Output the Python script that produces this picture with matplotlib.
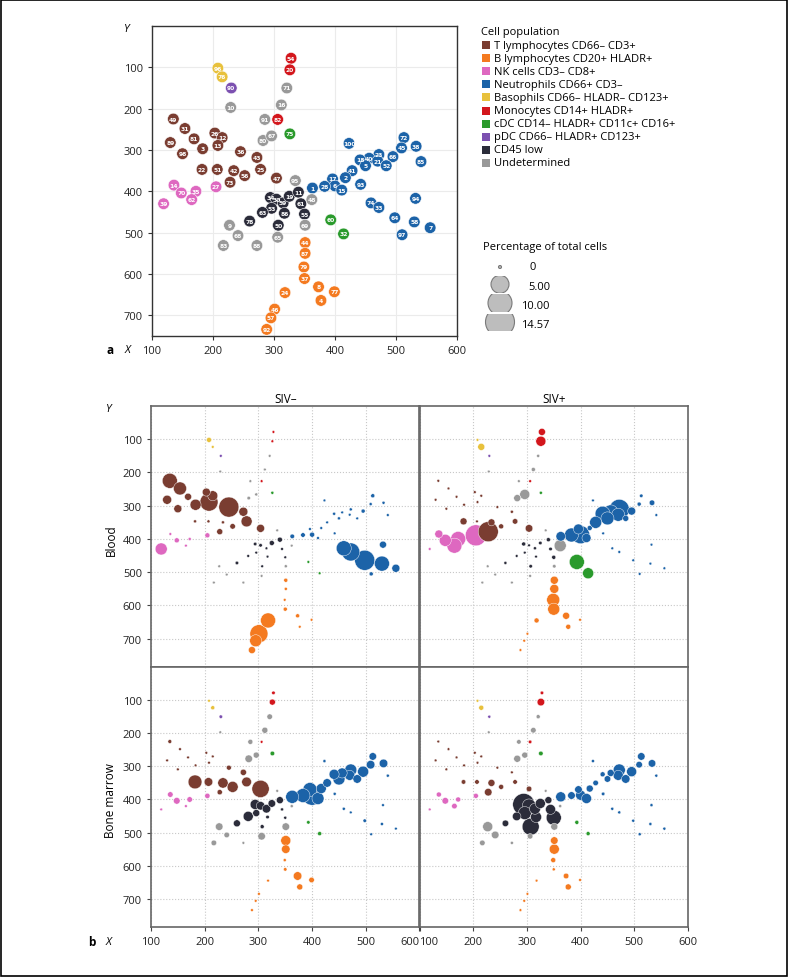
import numpy as np
import matplotlib
matplotlib.use('Agg')
import matplotlib.pyplot as plt
from matplotlib.patches import Rectangle, Circle

plt.rcParams['font.family'] = ['Open Sans', 'DejaVu Sans']

W, H = 788, 978

# Cell populations
pop_names = ['T lymphocytes CD66– CD3+', 'B lymphocytes CD20+ HLADR+', 'NK cells CD3– CD8+',
             'Neutrophils CD66+ CD3–', 'Basophils CD66– HLADR– CD123+', 'Monocytes CD14+ HLADR+',
             'cDC CD14– HLADR+ CD11c+ CD16+', 'pDC CD66– HLADR+ CD123+', 'CD45 low', 'Undetermined']
pop_colors = ['#7a3d31', '#f47a20', '#de68c0', '#1c63a8', '#e8c13c', '#d3161c',
              '#2a9a2c', '#7c50b0', '#2b2c3a', '#999999']

# Node ids, layout position (X, Y) and population, grouped by population
node_id = [49, 31, 81, 89, 98, 3, 26, 12, 13, 36, 43, 22, 51, 42, 56, 25, 73, 47,
           44, 87, 79, 37, 8, 77, 4, 24, 46, 57, 92,
           14, 70, 35, 62, 39, 27,
           100, 72, 38, 45, 66, 85, 23, 40, 18, 21, 52, 5, 41, 2, 17, 6, 28, 15, 93, 1, 74, 33, 94, 64, 58, 7, 97,
           96, 76,
           54, 20, 82,
           75, 60, 32,
           90,
           34, 30, 59, 19, 11, 53, 63, 86, 78, 50, 61, 55,
           10, 71, 16, 91, 80, 67, 95, 48, 69, 9, 68, 83, 88, 65]
node_x = [135, 154, 169, 130, 150, 183, 203, 215, 208, 245, 272, 182, 207, 234, 252, 278, 228, 304,
          351, 351, 349, 350, 373, 399, 377, 318, 301, 295, 288,
          136, 148, 172, 165, 119, 205,
          423, 513, 533, 509, 495, 541, 472, 456, 441, 470, 484, 450, 428, 417, 396, 400, 383, 411, 442, 363, 459, 472, 532, 498, 530, 556, 510,
          208, 215,
          328, 326, 306,
          326, 393, 414,
          230,
          294, 304, 315, 325, 340, 296, 281, 317, 260, 307, 344, 350,
          229, 321, 312, 285, 282, 296, 335, 362, 351, 227, 241, 217, 272, 306]
node_y = [225, 248, 273, 282, 309, 297, 259, 270, 289, 304, 318, 347, 347, 350, 362, 347, 378, 368,
          524, 550, 583, 611, 631, 643, 664, 645, 685, 706, 734,
          385, 404, 400, 420, 430, 389,
          284, 270, 291, 295, 316, 328, 311, 320, 324, 327, 338, 338, 350, 367, 370, 387, 388, 397, 383, 392, 428, 439, 417, 464, 474, 488, 505,
          102, 123,
          78, 106, 226,
          261, 469, 503,
          150,
          415, 419, 428, 412, 402, 441, 451, 453, 472, 482, 430, 455,
          197, 150, 191, 226, 277, 266, 374, 420, 482, 482, 507, 531, 531, 511]
node_pop = [0] * 18 + [1] * 11 + [2] * 6 + [3] * 27 + [4] * 2 + [5] * 3 + [6] * 3 + [7] * 1 + [8] * 12 + [9] * 14

# Percentage of total cells per node (same order as node_id)
blood_neg = [6.25, 4.47, 0.92, 1.81, 1.33, 3.0, 1.33, 2.37, 9.5, 12.0, 1.81, 0.04, 0.04, 0.04, 0.45, 3.0, 0.59, 1.33,
             0.15, 0.04, 0.02, 0.15, 0.15, 0.02, 0.02, 6.25, 9.5, 3.7, 0.92,
             0.02, 0.33, 0.04, 0.02, 3.7, 0.33,
             0.02, 0.15, 0.04, 0.04, 0.15, 0.02, 0.04, 0.02, 0.04, 0.02, 0.02, 0.04, 0.02, 0.02, 0.02, 0.33, 0.23, 0.02, 0.02, 0.23, 6.25, 9.5, 0.92, 12.0, 6.25, 1.33, 0.15,
             0.33, 0.02,
             0.02, 0.02, 0.02,
             0.04, 0.02, 0.02,
             0.02,
             0.08, 0.08, 0.02, 0.33, 0.33, 0.02, 0.02, 0.02, 0.08, 0.02, 0.02, 0.02,
             0.02, 0.02, 0.02, 0.02, 0.08, 0.04, 0.02, 0.02, 0.04, 0.02, 0.02, 0.02, 0.02, 0.02]
blood_pos = [0.02, 0.02, 0.02, 0.02, 0.02, 0.02, 0.02, 0.02, 0.02, 0.02, 0.04, 0.92, 0.02, 0.92, 0.33, 0.45, 12.0, 1.12,
             1.33, 1.81, 4.47, 3.7, 0.92, 0.02, 0.33, 0.33, 0.02, 0.02, 0.02,
             1.33, 3.7, 6.25, 6.25, 0.02, 13.35,
             0.02, 0.08, 0.45, 0.15, 1.33, 0.02, 12.0, 6.25, 6.25, 4.47, 0.59, 4.47, 3.7, 0.33, 2.37, 9.5, 5.3, 1.81, 0.02, 2.08, 0.02, 0.02, 0.02, 0.02, 0.02, 0.02, 0.02,
             0.02, 0.92,
             0.92, 2.37, 0.02,
             0.04, 6.25, 3.0,
             0.02,
             0.15, 0.02, 0.04, 0.08, 0.15, 0.02, 0.02, 0.02, 0.04, 0.08, 0.08, 0.15,
             0.02, 0.04, 0.15, 0.02, 0.92, 2.37, 0.02, 3.7, 0.08, 0.02, 0.02, 0.02, 0.02, 0.02]
bm_neg = [0.12, 0.02, 0.02, 0.02, 0.02, 0.02, 0.02, 0.02, 0.02, 0.3, 0.65, 5.15, 1.6, 2.55, 3.0, 2.2, 0.38, 8.6,
          2.37, 1.56, 0.04, 0.08, 1.56, 0.45, 0.59, 0.02, 0.02, 0.02, 0.02,
          0.45, 0.78, 0.45, 0.02, 0.02, 0.38,
          0.04, 1.12, 1.56, 1.56, 3.0, 0.04, 3.7, 2.37, 2.37, 2.37, 1.56, 3.7, 1.56, 2.37, 5.3, 12.0, 5.3, 3.7, 0.04, 4.47, 0.04, 0.02, 0.02, 0.08, 0.04, 0.02, 0.02,
          0.02, 0.15,
          0.08, 0.59, 0.02,
          0.23, 0.08, 0.15,
          0.08,
          2.37, 1.56, 1.56, 1.12, 0.92, 0.92, 2.37, 0.08, 0.92, 0.15, 0.04, 0.04,
          0.02, 0.45, 0.59, 0.33, 1.12, 0.59, 0.02, 0.04, 1.12, 1.12, 0.45, 0.45, 0.02, 1.12]
bm_pos = [0.02, 0.02, 0.02, 0.02, 0.02, 0.02, 0.02, 0.02, 0.02, 0.02, 0.02, 0.23, 0.23, 0.92, 0.33, 0.23, 1.12, 0.45,
          1.12, 2.37, 0.33, 0.04, 0.45, 0.02, 0.59, 0.02, 0.02, 0.02, 0.02,
          0.33, 0.75, 0.33, 0.45, 0.02, 0.33,
          0.04, 1.12, 1.12, 0.75, 2.37, 0.04, 3.7, 0.92, 0.33, 2.37, 1.56, 0.75, 0.45, 0.92, 1.12, 2.37, 1.12, 2.37, 0.08, 2.37, 0.04, 0.04, 0.04, 0.04, 0.04, 0.04, 0.04,
          0.02, 0.33,
          0.08, 1.12, 0.08,
          0.23, 0.15, 0.15,
          0.04,
          14.57, 5.0, 3.0, 2.37, 0.92, 4.47, 1.56, 3.0, 0.75, 8.3, 2.37, 6.25,
          0.02, 0.15, 0.45, 0.23, 0.92, 0.59, 0.02, 0.04, 0.92, 2.37, 1.12, 0.45, 0.04, 0.45]

size_levels = [0, 5.00, 10.00, 14.57]
size_labels = ['0', '5.00', '10.00', '14.57']

node_x = np.array(node_x)
node_y = np.array(node_y)
node_cols = np.array([pop_colors[p] for p in node_pop])


def fx(px):
    return px / W


def fy(py):
    return 1 - py / H


def pct_to_s(p):
    # marker diameter in pixels -> points^2
    d = 2.0 + 5.2 * np.sqrt(np.asarray(p))
    return (d * 0.72) ** 2


fig = plt.figure(figsize=(W / 100, H / 100), dpi=100)
fig.patches.append(Rectangle((0.001, 0.001), 0.998, 0.998, transform=fig.transFigure,
                             fill=False, edgecolor='black', linewidth=1.2))

tick_fs = 8

# ---------------- panel a ----------------
ax = fig.add_axes([fx(152), fy(337), fx(457) - fx(152), fy(27) - fy(337)])
ax.set_xlim(100, 600)
ax.set_ylim(750, 0)
ax.set_xticks([100, 200, 300, 400, 500, 600])
ax.set_yticks([100, 200, 300, 400, 500, 600, 700])
ax.grid(color='#ebebeb', linewidth=0.8)
ax.set_axisbelow(True)
for s in ax.spines.values():
    s.set_color('#333333')
    s.set_linewidth(1.0)
ax.tick_params(labelsize=tick_fs, length=3, width=0.8, color='#333333', labelcolor='#222222')
ax.scatter(node_x, node_y, s=70, c=node_cols, edgecolors='white', linewidths=0.4, zorder=3)
for i in range(len(node_id)):
    ax.text(node_x[i], node_y[i], str(node_id[i]), color='white', fontsize=4.3,
            fontweight='bold', ha='center', va='center', zorder=4, family='DejaVu Sans')

fig.text(fx(127), fy(29), 'Y', fontsize=8, style='italic', ha='center', va='center')
fig.text(fx(128), fy(351), 'X', fontsize=8, style='italic', ha='center', va='center')
fig.text(fx(110), fy(351), 'a', fontsize=8.5, fontweight='bold', ha='center', va='center')

# population legend
fig.text(fx(481), fy(33), 'Cell population', fontsize=8, ha='left', va='center')
for i, (name, col) in enumerate(zip(pop_names, pop_colors)):
    yc = 46 + i * 13.1
    fig.patches.append(Rectangle((fx(482), fy(yc + 4)), fx(8), 8 / H,
                                 transform=fig.transFigure, facecolor=col, edgecolor='none'))
    fig.text(fx(494), fy(yc), name, fontsize=8, ha='left', va='center')

# size legend
fig.text(fx(483), fy(248), 'Percentage of total cells', fontsize=8, ha='left', va='center')
lax = fig.add_axes([fx(470), fy(340), fx(620) - fx(470), fy(258) - fy(340)])
lax.set_xlim(470, 620)
lax.set_ylim(340, 258)
lax.axis('off')
leg_rows = [(268, 266, 270, 3), (285.3, 276.5, 294, 18), (304, 295, 312.7, 24), (323, 314.7, 331.7, 29)]
for (yc, y0, y1, d), lab in zip(leg_rows, size_labels):
    circ = Circle((500, yc), d / 2, facecolor='#bdbdbd', edgecolor='#7a7a7a', linewidth=0.8)
    lax.add_patch(circ)
    clip = Rectangle((480, y0), 40, y1 - y0, transform=lax.transData)
    circ.set_clip_path(clip)
for lab, ly in zip(size_labels, [268, 287.5, 306.5, 325.5]):
    if lab == '0':
        lax.text(529, ly, lab, fontsize=8, ha='left', va='center')
    else:
        lax.text(550, ly, lab, fontsize=8, ha='right', va='center')

# ---------------- panel b ----------------
conds = [[blood_neg, blood_pos], [bm_neg, bm_pos]]
col_left = [151, 419.5]
row_top = [407, 668]
row_bot = [668, 928]
for r in range(2):
    for c in range(2):
        bx = fig.add_axes([fx(col_left[c]), fy(row_bot[r]), 268.5 / W, (row_bot[r] - row_top[r]) / H])
        bx.set_xlim(100, 600)
        bx.set_ylim(785, 0)
        bx.set_xticks([100, 200, 300, 400, 500, 600])
        bx.set_yticks([100, 200, 300, 400, 500, 600, 700])
        bx.grid(color='#c8c8c8', linestyle=':', linewidth=0.8)
        bx.set_axisbelow(True)
        for s in bx.spines.values():
            s.set_color('#666666')
            s.set_linewidth(1.2)
        bx.tick_params(labelsize=tick_fs, length=3, width=0.8, color='#444444', labelcolor='#222222',
                       labelleft=(c == 0), labelbottom=(r == 1), left=(c == 0), bottom=(r == 1))
        if r == 1:
            # keep the shared 600 | 100 labels apart at the column boundary
            labs = bx.get_xticklabels()
            if c == 0:
                labs[-1].set_horizontalalignment('right')
            else:
                labs[0].set_horizontalalignment('left')
        vals = np.array(conds[r][c])
        order = np.argsort(-vals)
        bx.scatter(node_x[order], node_y[order], s=pct_to_s(vals[order]), c=node_cols[order],
                   edgecolors='white', linewidths=0.3, zorder=3)
        if r == 0:
            bx.set_title('SIV–' if c == 0 else 'SIV+', fontsize=8.5, pad=3)

fig.text(fx(111), fy(540), 'Blood', fontsize=8.5, rotation=90, ha='center', va='center')
fig.text(fx(111), fy(801), 'Bone marrow', fontsize=8.5, rotation=90, ha='center', va='center')
fig.text(fx(109), fy(410), 'Y', fontsize=8, style='italic', ha='center', va='center')
fig.text(fx(109), fy(943), 'X', fontsize=8, style='italic', ha='center', va='center')
fig.text(fx(92), fy(943), 'b', fontsize=8.5, fontweight='bold', ha='center', va='center')

fig.savefig('out.png', dpi=100)
